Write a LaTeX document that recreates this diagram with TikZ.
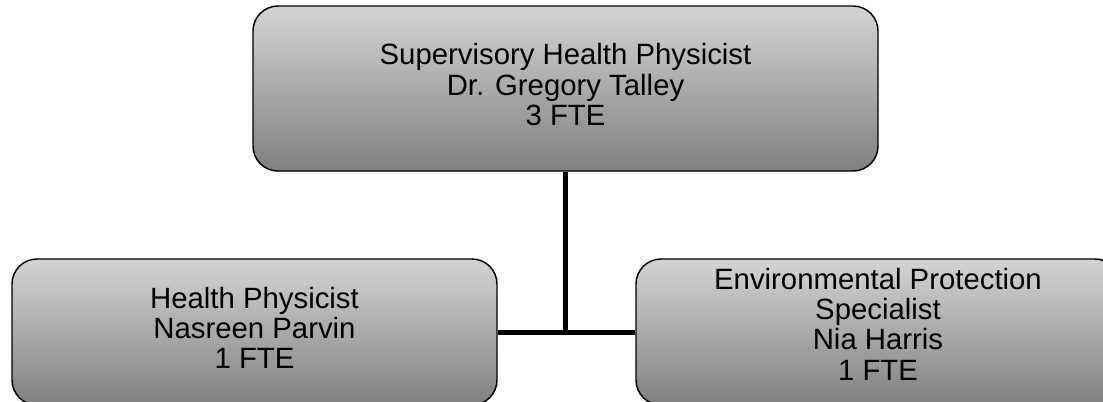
\documentclass[tikz,border=0pt]{standalone}
\usepackage{fontspec}
\setmainfont{Liberation Sans}
\begin{document}
\begin{tikzpicture}[x=0.75pt,y=-0.75pt,
  orgbox/.style={draw=black, line width=1.1pt, rounded corners=18.75pt,
    top color=black!17, bottom color=black!50,
    inner sep=0pt, align=center, text=black,
    font=\fontsize{22}{22.7}\selectfont, text depth=6pt},
  link/.style={draw=black, line width=3.75pt}]
  \useasboundingbox (0,0) rectangle (1103,401);

  % supervisor
  \node (sup) [orgbox, minimum width=468.75pt, minimum height=123.75pt]
    at (565.5,88.5) {Supervisory Health Physicist\\Dr. Gregory Talley\\3 FTE};

  % staff
  \node (hp) [orgbox, minimum width=363.75pt, minimum height=109.5pt]
    at (254.5,332) {Health Physicist\\Nasreen Parvin\\1 FTE};
  \node (eps) [orgbox, minimum width=363pt, minimum height=109.5pt, text depth=12pt]
    at (878,332) {Environmental Protection\\Specialist\\Nia Harris\\1 FTE};

  % reporting lines
  \draw[link] (sup.south) -- (sup.south |- hp.east);
  \draw[link] (hp.east) -- (eps.west);
\end{tikzpicture}
\end{document}
